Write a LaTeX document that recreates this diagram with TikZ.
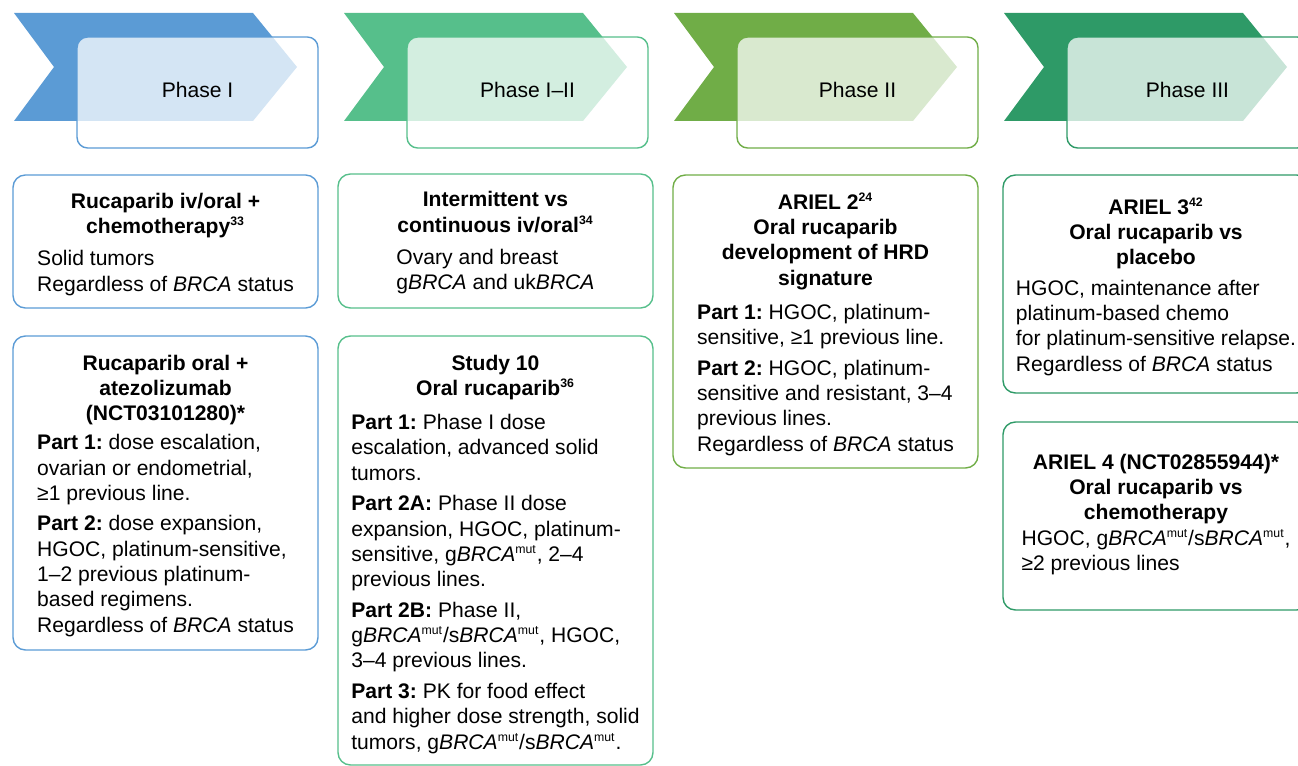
\documentclass[tikz,border=0pt]{standalone}
\usepackage{fontspec}
\setmainfont{Liberation Sans}
\usepackage{xcolor}
\usetikzlibrary{positioning}
\frenchspacing

\definecolor{blueA}{HTML}{5B9BD5}
\definecolor{greenA}{HTML}{56BF8B}
\definecolor{greenB}{HTML}{70AD47}
\definecolor{greenC}{HTML}{2E9A67}

\newcommand{\hochz}[1]{\textsuperscript{\fontsize{7}{8}\selectfont #1}}

\tikzset{
  chev/.style={fill=#1},
  phaseframe/.style={draw=#1, line width=0.8pt, rounded corners=6pt, fill=white, fill opacity=0.74, text opacity=1, minimum width=4.82cm, minimum height=2.22cm},
  studybox/.style={draw=#1, line width=0.8pt, rounded corners=7pt, align=center}
}

\begin{document}
\begin{tikzpicture}[x=0.02cm, y=-0.02cm, every node/.style={font=\fontsize{12}{14.4}\selectfont, inner sep=0pt}]
\useasboundingbox (0,0) rectangle (1298,766);

% Phasenpfeile
\fill[chev=blueA] (14,13) -- (253,13) -- (297,67) -- (253,121) -- (14,121) -- (54,67) -- cycle;
\fill[chev=greenA] (344,13) -- (583,13) -- (627,67) -- (583,121) -- (344,121) -- (384,67) -- cycle;
\fill[chev=greenB] (674,13) -- (913,13) -- (957,67) -- (913,121) -- (674,121) -- (714,67) -- cycle;
\fill[chev=greenC] (1004,13) -- (1243,13) -- (1287,67) -- (1243,121) -- (1004,121) -- (1044,67) -- cycle;

% Phasenbezeichnungen
\node[phaseframe=blueA] (ph1) at (197.5,92.5) {\raisebox{3.5pt}{Phase I}};
\node[phaseframe=greenA] (ph12) at (527.5,92.5) {\raisebox{3.5pt}{Phase I--II}};
\node[phaseframe=greenB] (ph2) at (857.5,92.5) {\raisebox{3.5pt}{Phase II}};
\node[phaseframe=greenC] (ph3) at (1187.5,92.5) {\raisebox{3.5pt}{Phase III}};

% Phase I
\node[studybox=blueA, minimum width=6.1cm, minimum height=2.66cm] (rucaIV) at (165.5,241.5)
  {\textbf{Rucaparib iv/oral +}\\\textbf{chemotherapy\hochz{33}}\\[4pt]
   \begin{tabular}[t]{@{}l@{}}Solid tumors\\Regardless of \textit{BRCA} status\\[-5pt]\end{tabular}};
\node[studybox=blueA, minimum width=6.1cm, minimum height=6.28cm] (rucaAtezo) at (165.5,493)
  {\textbf{Rucaparib oral +}\\\textbf{atezolizumab}\\\textbf{(NCT03101280)*}\\[2pt]
   \begin{tabular}[t]{@{}l@{}}\textbf{Part 1:} dose escalation,\\ovarian or endometrial,\\≥1 previous line.\\[3pt]
   \textbf{Part 2:} dose expansion,\\HGOC, platinum-sensitive,\\1--2 previous platinum-\\based regimens.\\Regardless of \textit{BRCA} status\\[-5pt]\end{tabular}};

% Phase I-II
\node[studybox=greenA, minimum width=6.3cm, minimum height=2.68cm] (intermit) at (495.5,241)
  {\textbf{Intermittent vs}\\\textbf{continuous iv/oral\hochz{34}}\\[4pt]
   \begin{tabular}[t]{@{}l@{}}Ovary and breast\\g\textit{BRCA} and uk\textit{BRCA}\\[-4pt]\end{tabular}};
\node[studybox=greenA, minimum width=6.3cm, minimum height=8.58cm] (study10) at (495.5,550.5)
  {\textbf{Study 10}\\\textbf{Oral rucaparib\hochz{36}}\\[5pt]
   \begin{tabular}[t]{@{}l@{}}\textbf{Part 1:} Phase I dose\\escalation, advanced solid\\tumors.\\[3pt]
   \textbf{Part 2A:} Phase II dose\\expansion, HGOC, platinum-\\sensitive, g\textit{BRCA}\hochz{mut}, 2--4\\previous lines.\\[3pt]
   \textbf{Part 2B:} Phase II,\\g\textit{BRCA}\hochz{mut}/s\textit{BRCA}\hochz{mut}, HGOC,\\3--4 previous lines.\\[3pt]
   \textbf{Part 3:} PK for food effect\\and higher dose strength, solid\\tumors, g\textit{BRCA}\hochz{mut}/s\textit{BRCA}\hochz{mut}.\\[-6pt]\end{tabular}};

% Phase II
\node[studybox=greenB, minimum width=6.1cm, minimum height=5.86cm] (ariel2) at (825.5,321.5)
  {\textbf{ARIEL 2\hochz{24}}\\\textbf{Oral rucaparib}\\\textbf{development of HRD}\\\textbf{signature}\\[5pt]
   \begin{tabular}[t]{@{}l@{}}\textbf{Part 1:} HGOC, platinum-\\sensitive, ≥1 previous line.\\[3pt]
   \textbf{Part 2:} HGOC, platinum-\\sensitive and resistant, 3--4\\previous lines.\\Regardless of \textit{BRCA} status\\[-5pt]\end{tabular}};

% Phase III
\node[studybox=greenC, minimum width=6.12cm, minimum height=4.36cm] (ariel3) at (1156,284)
  {\textbf{ARIEL 3\hochz{42}}\\\textbf{Oral rucaparib vs}\\\textbf{placebo}\\[3pt]
   \begin{tabular}[t]{@{}l@{}}HGOC, maintenance after\\platinum-based chemo\\for platinum-sensitive relapse.\\Regardless of \textit{BRCA} status\\[-5pt]\end{tabular}};
\node[studybox=greenC, minimum width=6.12cm, minimum height=3.76cm] (ariel4) at (1156,516)
  {\textbf{ARIEL 4 (NCT02855944)*}\\\textbf{Oral rucaparib vs}\\\textbf{chemotherapy}\\[0pt]
   \begin{tabular}[t]{@{}l@{}}HGOC, g\textit{BRCA}\hochz{mut}/s\textit{BRCA}\hochz{mut},\\≥2 previous lines\end{tabular}};

\end{tikzpicture}
\end{document}
